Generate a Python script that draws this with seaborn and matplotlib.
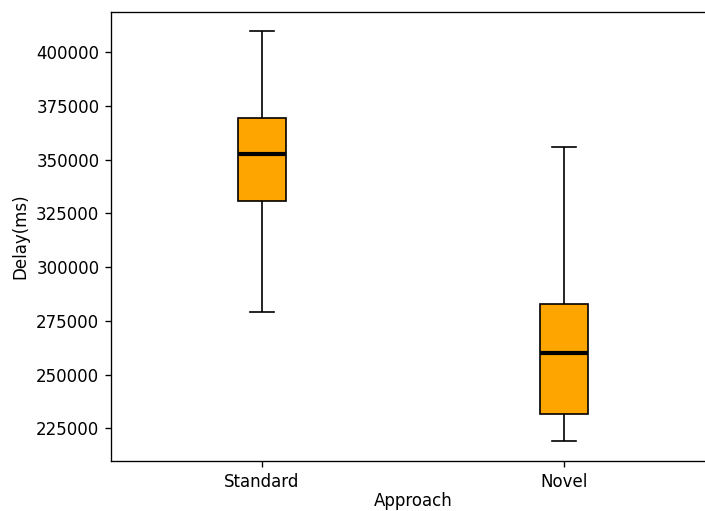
import pandas as pd
import matplotlib
matplotlib.use("Agg")
import matplotlib.pyplot as plt
import seaborn as sns

# ------------------------------------------------------------------
# Data: min, Q1, median, Q3, max per approach
# ------------------------------------------------------------------
approaches = ["Standard", "Novel"]
standard_delay = [279200, 330500, 352500, 369300, 409600]
novel_delay = [219200, 231600, 260100, 282700, 355800]

df = pd.DataFrame({
    "Approach": [approaches[0]] * len(standard_delay) + [approaches[1]] * len(novel_delay),
    "Delay(ms)": standard_delay + novel_delay,
})

# ------------------------------------------------------------------
# Plot (the original looks like a cropped, higher-dpi figure)
# ------------------------------------------------------------------
W, H, DPI = 705, 511, 120
fig = plt.figure(figsize=(W / DPI, H / DPI), dpi=DPI)
ax = fig.add_axes([111 / W, 50 / H, 604 / W, 449 / H])

sns.boxplot(
    data=df, x="Approach", y="Delay(ms)", ax=ax,
    color="orange", saturation=1, width=0.156, whis=(0, 100),
    linecolor="black", linewidth=1,
    medianprops=dict(color="black", linewidth=2.5),
)

ax.set_xlim(-0.5, 1.5)
ax.set_ylim(209800, 418600)
ax.spines["right"].set_visible(False)
ax.set_xlabel("Approach", labelpad=1)
ax.set_ylabel("Delay(ms)")

fig.savefig("out.png", dpi=DPI)
plt.close(fig)
